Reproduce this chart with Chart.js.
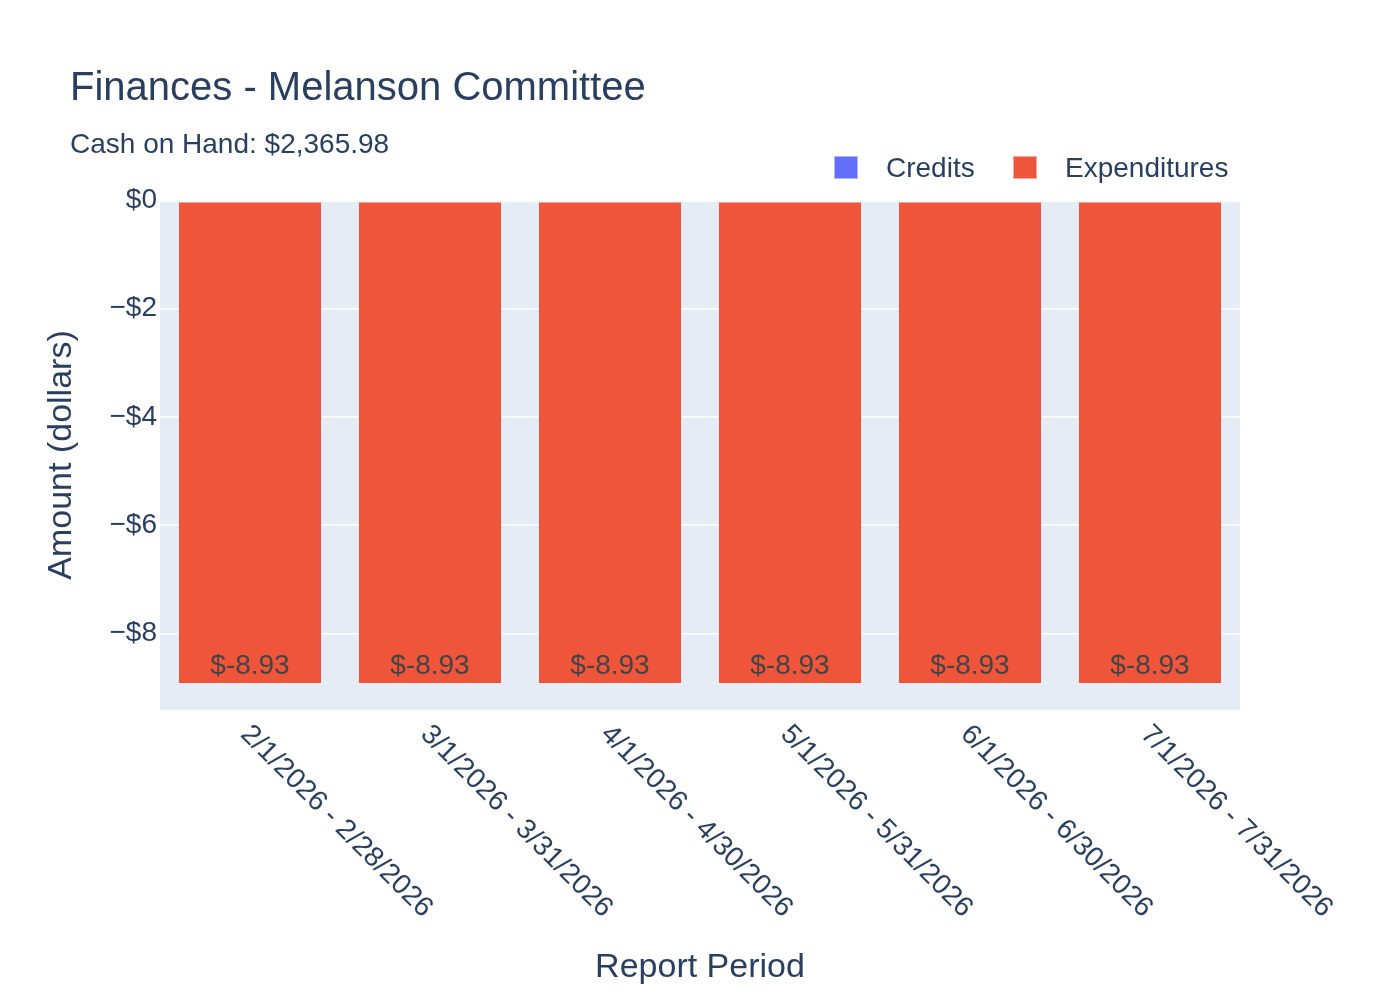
<!DOCTYPE html>
<html>
<head>
<meta charset="utf-8">
<script src="https://cdn.jsdelivr.net/npm/chart.js@4/dist/chart.umd.min.js"></script>
<style>
  html, body { margin: 0; padding: 0; background: #fff; }
  #wrap { width: 1400px; height: 1000px; }
</style>
</head>
<body>
<div id="wrap"><canvas id="finChart" width="1400" height="1000"></canvas></div>
<script>
/* ==========================
   DATA
========================== */
const periods = [
    "2/1/2026 - 2/28/2026",
    "3/1/2026 - 3/31/2026",
    "4/1/2026 - 4/30/2026",
    "5/1/2026 - 5/31/2026",
    "6/1/2026 - 6/30/2026",
    "7/1/2026 - 7/31/2026"
];
const credits = [0, 0, 0, 0, 0, 0];
const expenditures = [-8.93, -8.93, -8.93, -8.93, -8.93, -8.93];
const yTicks = [0, -2, -4, -6, -8];

const chartTitle = "Finances - Melanson Committee";
const chartSubtitle = "Cash on Hand: $2,365.98";

const FONT = "'Liberation Sans', Arial, sans-serif";
const INK = "#2a3f5f";

function money(v) {
    return v === 0 ? "$0" : "\u2212$" + Math.abs(v);
}

/* ==========================
   PLUGINS
========================== */
const plotBg = {
    id: "plotBg",
    beforeDraw(chart) {
        const { ctx, chartArea: a } = chart;
        ctx.save();
        ctx.fillStyle = "#e5ecf6";
        ctx.fillRect(a.left, a.top + 1, a.right - a.left, a.bottom - a.top - 1);
        ctx.restore();
    }
};

const decorations = {
    id: "decorations",
    afterDraw(chart) {
        const { ctx, chartArea: a } = chart;
        ctx.save();

        // title + subtitle
        ctx.fillStyle = INK;
        ctx.textAlign = "left";
        ctx.textBaseline = "alphabetic";
        ctx.font = "40px " + FONT;
        ctx.fillText(chartTitle, 70, 100);
        ctx.font = "28px " + FONT;
        ctx.fillText(chartSubtitle, 70, 153);

        // legend
        const legendX = [834, 1013];
        chart.data.datasets.forEach((ds, i) => {
            ctx.fillStyle = ds.backgroundColor;
            ctx.fillRect(legendX[i], 156, 24, 23);
            ctx.strokeStyle = "rgba(255,255,255,0.5)";
            ctx.lineWidth = 1;
            ctx.strokeRect(legendX[i] + 0.5, 156.5, 23, 22);
            ctx.fillStyle = INK;
            ctx.font = "28px " + FONT;
            ctx.textAlign = "left";
            ctx.textBaseline = "middle";
            ctx.fillText(ds.label, legendX[i] + 52, 169);
        });

        // y tick labels
        const ys = chart.scales.y;
        ctx.fillStyle = INK;
        ctx.font = "28px " + FONT;
        ctx.textAlign = "right";
        ctx.textBaseline = "middle";
        yTicks.forEach(v => {
            ctx.fillText(money(v), a.left - 3, ys.getPixelForValue(v));
        });

        // bar labels
        const meta = chart.getDatasetMeta(1);
        ctx.fillStyle = "#444";
        ctx.font = "28px " + FONT;
        ctx.textAlign = "center";
        ctx.textBaseline = "alphabetic";
        meta.data.forEach((bar, i) => {
            ctx.fillText("$" + expenditures[i].toFixed(2), bar.x, bar.y - 10);
        });

        // rotated category labels
        const xs = chart.scales.x;
        ctx.fillStyle = INK;
        ctx.font = "28px " + FONT;
        ctx.textAlign = "left";
        ctx.textBaseline = "middle";
        periods.forEach((p, i) => {
            const px = xs.getPixelForValue(i);
            ctx.save();
            ctx.translate(px - 5, a.bottom + 20);
            ctx.rotate(Math.PI / 4);
            ctx.fillText(p, 0, 0);
            ctx.restore();
        });

        // axis titles
        ctx.font = "34px " + FONT;
        ctx.textAlign = "center";
        ctx.textBaseline = "alphabetic";
        ctx.fillText("Report Period", (a.left + a.right) / 2, 977);
        ctx.save();
        ctx.translate(71, (a.top + a.bottom) / 2);
        ctx.rotate(-Math.PI / 2);
        ctx.fillText("Amount (dollars)", 0, 0);
        ctx.restore();

        ctx.restore();
    }
};

/* ==========================
   CHART
========================== */
new Chart(document.getElementById("finChart"), {
    type: "bar",
    data: {
        labels: periods,
        datasets: [
            {
                label: "Credits",
                data: credits,
                backgroundColor: "#636efa",
                borderWidth: 0
            },
            {
                label: "Expenditures",
                data: expenditures,
                backgroundColor: "#ef553b",
                borderColor: "rgba(229,236,246,0.7)",
                borderWidth: 1,
                borderSkipped: false
            }
        ]
    },
    options: {
        responsive: false,
        devicePixelRatio: 1,
        animation: false,
        events: [],
        layout: { padding: { left: 160, right: 160, top: 200, bottom: 290 } },
        datasets: { bar: { categoryPercentage: 1, barPercentage: 0.8 } },
        plugins: {
            legend: { display: false },
            title: { display: false },
            tooltip: { enabled: false }
        },
        scales: {
            x: {
                display: false,
                stacked: true,
                offset: true
            },
            y: {
                min: -9.41,
                max: 0,
                afterFit(scale) { scale.width = 0; },
                afterBuildTicks(scale) {
                    scale.ticks = yTicks.map(v => ({ value: v }));
                },
                border: { display: false },
                grid: {
                    color: "#ffffff",
                    lineWidth: ctx => (ctx.tick && ctx.tick.value === 0 ? 3 : 1.5),
                    drawTicks: false
                },
                ticks: { display: false }
            }
        }
    },
    plugins: [plotBg, decorations]
});
</script>
</body>
</html>
